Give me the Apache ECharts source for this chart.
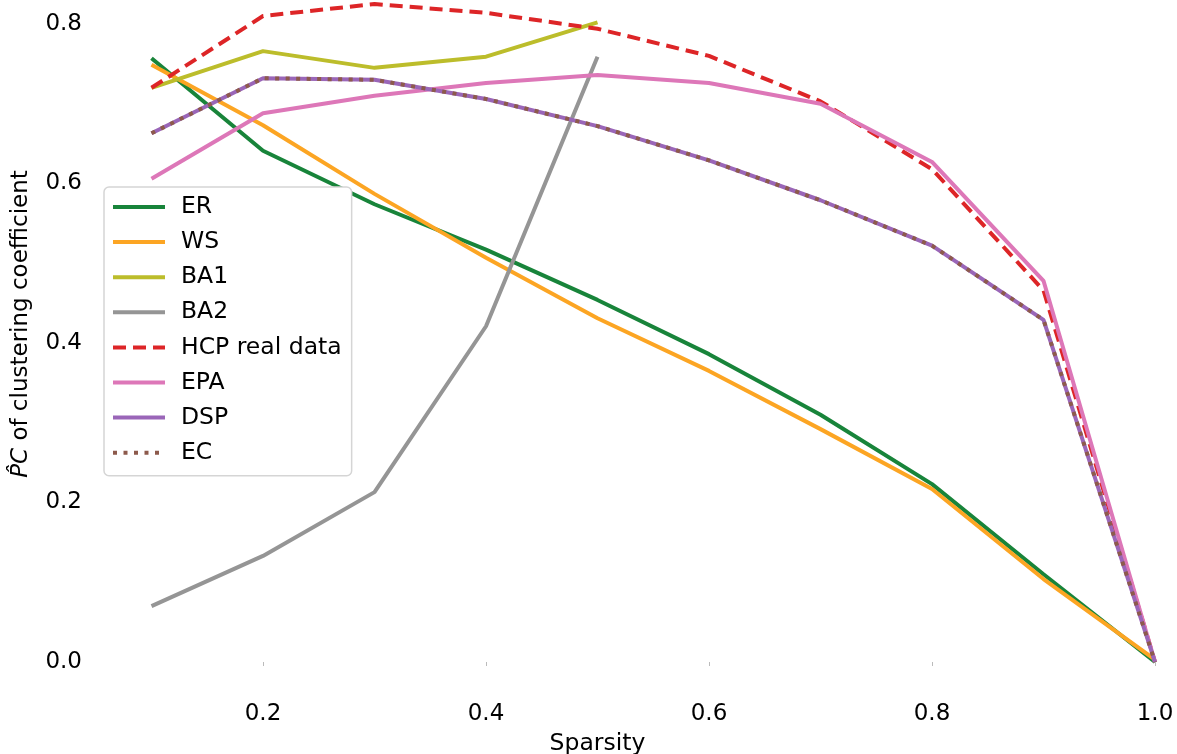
<!DOCTYPE html>
<html>
<head>
<meta charset="utf-8">
<script src="https://cdn.jsdelivr.net/npm/echarts@6/dist/echarts.min.js"></script>
<style>html,body{margin:0;padding:0;background:#fff;}#c{width:1177px;height:754px;}</style>
</head>
<body>
<div id="c"></div>
<script>
const sparsity = [0.1, 0.2, 0.3, 0.4, 0.5, 0.6, 0.7, 0.8, 0.9, 1.0];
const sparsityBA = [0.1, 0.2, 0.3, 0.4, 0.5];
const ER  = [0.757, 0.641, 0.574, 0.517, 0.454, 0.386, 0.310, 0.223, 0.110, 0.0];
const WS  = [0.749, 0.673, 0.587, 0.507, 0.431, 0.365, 0.292, 0.217, 0.104, 0.003];
const BA1 = [0.720, 0.766, 0.745, 0.759, 0.802];
const BA2 = [0.070, 0.133, 0.213, 0.421, 0.759];
const HCP = [0.720, 0.810, 0.825, 0.814, 0.794, 0.760, 0.703, 0.618, 0.466, 0.0];
const EPA = [0.606, 0.688, 0.710, 0.726, 0.736, 0.726, 0.700, 0.627, 0.478, 0.0];
const DSP = [0.663, 0.732, 0.730, 0.706, 0.672, 0.629, 0.579, 0.522, 0.429, 0.0];
const EC  = [0.663, 0.732, 0.730, 0.706, 0.672, 0.629, 0.579, 0.522, 0.429, 0.0];
const xTicks = [0.0, 0.2, 0.4, 0.6, 0.8, 1.0];

const FONT = 'DejaVu Sans';
function pairs(xs, ys){ return ys.map((v,i)=>[xs[i], v]); }
function mk(name, xs, ys, color, type, z){
  return {
    name, type:'line', data: pairs(xs, ys), symbol:'none', clip:false, z: z,
    lineStyle:{color, width:4, type: type, cap:'butt'},
    itemStyle:{color},
    emphasis:{disabled:true}
  };
}
const chart = echarts.init(document.getElementById('c'), null, {renderer:'canvas'});
chart.setOption({
  animation:false,
  backgroundColor:'#fff',
  textStyle:{fontFamily:FONT},
  grid:{left:40, right:22, top:24, bottom:92, containLabel:false, outerBoundsMode:'none'},
  xAxis:{
    type:'value', min:0, max:1.0, interval:0.2, offset:31,
    name:'Sparsity', nameLocation:'middle', nameGap:39,
    nameTextStyle:{fontFamily:FONT, fontSize:23.5, color:'#000'},
    axisLine:{show:false},
    axisTick:{show:true, length:4, lineStyle:{color:'#bbb', width:1}},
    splitLine:{show:false},
    axisLabel:{showMinLabel:false, fontFamily:FONT, fontSize:23, color:'#000', margin:10,
      formatter:v=>v.toFixed(1)}
  },
  yAxis:{
    type:'value', min:0, max:0.8, interval:0.2, offset:-50,
    name:'{i|P̂C} of clustering coefficient', nameLocation:'middle', nameGap:57,
    nameTextStyle:{fontFamily:FONT, fontSize:23, color:'#000', padding:[0,0,0,38],
      rich:{i:{fontFamily:FONT, fontSize:23, fontStyle:'italic', color:'#000'}}},
    axisLine:{show:false},
    axisTick:{show:false},
    splitLine:{show:false},
    axisLabel:{fontFamily:FONT, fontSize:23, color:'#000', margin:8,
      formatter:v=>v.toFixed(1)}
  },
  legend:{
    orient:'vertical', left:104, top:187,
    backgroundColor:'#fff', borderColor:'#d5d5d5', borderWidth:1.5, borderRadius:5,
    padding:[8, 10, 11, 7],
    itemWidth:52, itemHeight:14, itemGap:11.1,
    itemStyle:{opacity:0},
    lineStyle:{width:4},
    textStyle:{fontFamily:FONT, fontSize:23.5, color:'#000', lineHeight:23, padding:[0,0,0,11]},
    data:['ER','WS','BA1','BA2','HCP real data','EPA','DSP','EC']
  },
  series:[
    mk('ER', sparsity, ER, '#18843a', 'solid', 2),
    mk('WS', sparsity, WS, '#fca523', 'solid', 3),
    mk('BA1', sparsityBA, BA1, '#bcbd2b', 'solid', 4),
    mk('BA2', sparsityBA, BA2, '#959595', 'solid', 5),
    mk('HCP real data', sparsity, HCP, '#dd2527', [13,7], 6),
    mk('EPA', sparsity, EPA, '#dd77b8', 'solid', 7),
    mk('DSP', sparsity, DSP, '#9a66b8', 'solid', 8),
    mk('EC', sparsity, EC, '#8d5a4c', [4,6.5], 9)
  ]
});
</script>
</body>
</html>
